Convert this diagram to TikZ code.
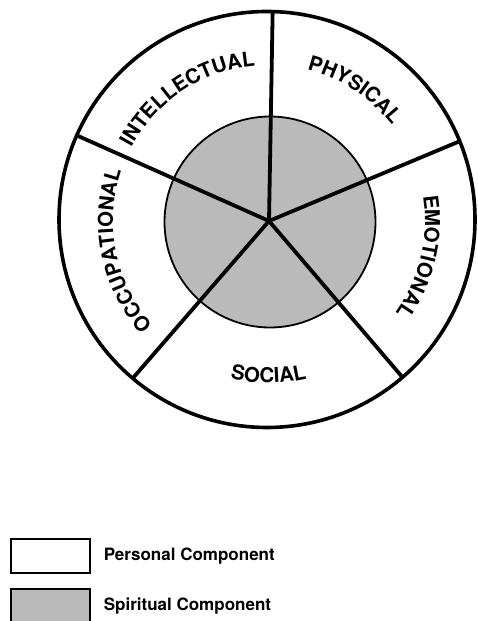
\documentclass[tikz,border=0pt]{standalone}
\usepackage{fontspec}
\setmainfont{TeX Gyre Heros}
\usepackage{tikz}
\usetikzlibrary{positioning, calc, decorations.text}
\definecolor{spiritgray}{RGB}{186,186,186}
\definecolor{linegray}{RGB}{0,0,0}
\tikzset{
  rim/.style={draw=linegray, line width=3.6pt},
  spoke/.style={draw=linegray, line width=3.8pt},
  core/.style={draw=linegray, fill=spiritgray, line width=1.8pt},
  wheellabel/.style={decorate, decoration={text along path, text align=center,
    text={|\bfseries\fontsize{20.5}{20.5}\selectfont|#1}}},
  keybox/.style={draw=linegray, line width=1.2pt, minimum width=79pt, minimum height=34pt, inner sep=0pt},
  keytext/.style={font=\bfseries\fontsize{17}{17}\selectfont, inner sep=0pt, anchor=west}
}
\begin{document}
\begin{tikzpicture}[x=1pt, y=1pt]
  \useasboundingbox (0,0) rectangle (478,621);
  \coordinate (hub) at (269,400);
  \coordinate (rimc) at (267,401.5);
  \coordinate (corec) at (270,399);

  % spiritual core
  \draw[core] (corec) circle[radius=105.5];

  % spokes, clipped by the rim
  \begin{scope}
    \clip (rimc) circle[radius=208];
    \foreach \a in {89, 22.7, -49.5, -130.9, 156}
      \draw[spoke] (hub) -- ($(hub)+(\a:230)$);
  \end{scope}
  \draw[rim] (rimc) circle[radius=208];

  % sector names
  \path[wheellabel=INTELLECTUAL] ($(hub)+(158:156)$) arc[start angle=158, end angle=89, radius=156];
  \path[wheellabel=PHYSICAL] ($(hub)+(91:156)$) arc[start angle=91, end angle=22.7, radius=156];
  \path[wheellabel=EMOTIONAL] ($(hub)+(22.7:156)$) arc[start angle=22.7, end angle=-49.5, radius=156];
  \path[wheellabel=SOCIAL] ($(hub)+(-130.9:162)$) arc[start angle=-130.9, end angle=-49.5, radius=162];
  \path[wheellabel=OCCUPATIONAL] ($(hub)+(229.1:156)$) arc[start angle=229.1, end angle=154, radius=156];

  % legend
  \node[keybox] (personal) at (50.5,65) {};
  \node[keybox, fill=spiritgray] (spiritual) at (50.5,15) {};
  \node[keytext, right=13pt of personal] (personaltxt) {Personal Component};
  \node[keytext, right=13pt of spiritual] (spiritualtxt) {Spiritual Component};
\end{tikzpicture}
\end{document}
